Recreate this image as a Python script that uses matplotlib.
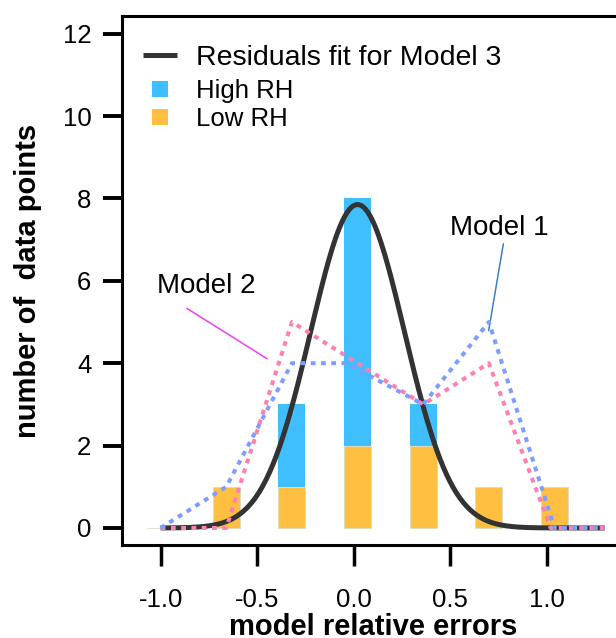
import numpy as np
import matplotlib
matplotlib.use("Agg")
import matplotlib.pyplot as plt
from matplotlib.lines import Line2D

plt.rcParams['font.family'] = ['Liberation Sans', 'DejaVu Sans']
plt.rcParams['axes.unicode_minus'] = False

# ---- data ----
bin_centers = [-1.0, -0.66, -0.32, 0.02, 0.36, 0.70, 1.04]
low_rh = [0, 1, 1, 2, 2, 1, 1]
high_rh = [0, 0, 2, 6, 1, 0, 0]

model1_x = [-1.0, -0.66, -0.32, -0.04, 0.36, 0.70, 1.04, 1.30]
model1_y = [0, 1, 4, 4, 3, 5, 0, 0]
model2_x = [-1.0, -0.66, -0.32, 0.02, 0.36, 0.70, 1.02, 1.30]
model2_y = [0, 0, 5, 4, 3, 4, 0, 0]

fit_amp = 7.85
fit_mu = 0.02
fit_sigma = 0.243
fit_range = (-1.0, 1.30)

xticks = [-1.0, -0.5, 0.0, 0.5, 1.0]
xtick_labels = ['-1.0', '-0.5', '0.0', '0.5', '1.0']
yticks = [0, 2, 4, 6, 8, 10, 12]

# ---- figure ----
W, H = 616, 638
fig = plt.figure(figsize=(W / 100, H / 100), dpi=100)
ax = fig.add_axes([122 / W, 93 / H, 502 / W, 528.7 / H])
ax.set_xlim(-1.2, 1.40)
ax.set_ylim(-0.413, 12.42)

c_high = '#40BFFF'
c_low = '#FFBF40'
c_fit = '#333333'
c_m1 = '#7F9CFF'
c_m2 = '#FF7FB0'

bw = 0.14
ax.bar(bin_centers, low_rh, width=bw, color=c_low, edgecolor='#DADDBF',
       linewidth=0.6, zorder=1)
ax.bar(bin_centers, high_rh, width=bw, bottom=low_rh, color=c_high,
       linewidth=0, zorder=1)

xf = np.linspace(fit_range[0], fit_range[1], 400)
yf = fit_amp * np.exp(-0.5 * ((xf - fit_mu) / fit_sigma) ** 2)
ax.plot(xf, yf, color=c_fit, lw=3.6, zorder=3, solid_capstyle='butt')

dots = (0, (1.2, 1.35))
ax.plot(model2_x, model2_y, color=c_m2, lw=2.9, ls=dots, zorder=4,
        dash_capstyle='butt')
ax.plot(model1_x, model1_y, color=c_m1, lw=2.9, ls=dots, zorder=5,
        dash_capstyle='butt')

# annotations
ax.annotate('Model 1', xy=(0.699, 4.79), xytext=(0.752, 7.11),
            fontsize=20, ha='center', va='baseline',
            arrowprops=dict(arrowstyle='-', color='#3F7FC0', lw=1.1,
                            shrinkA=0, shrinkB=0,
                            relpos=(0.55, 0.0)))
ax.annotate('Model 2', xy=(-0.449, 4.11), xytext=(-0.763, 5.70),
            fontsize=20, ha='center', va='baseline',
            arrowprops=dict(arrowstyle='-', color='#F040F0', lw=1.1,
                            shrinkA=0, shrinkB=0,
                            relpos=(0.3, -0.35)))

# axes styling
for s in ['left', 'top', 'bottom', 'right']:
    ax.spines[s].set_linewidth(2.2)
ax.set_xticks(xticks)
ax.set_xticklabels(xtick_labels)
ax.set_yticks(yticks)
ax.tick_params(axis='x', direction='out', length=15, width=2.5,
               labelsize=18.5, pad=16)
ax.tick_params(axis='y', direction='out', length=14, width=2.8,
               labelsize=18.5, pad=8)

ax.set_xlabel('model relative errors', fontsize=21, fontweight='bold',
              labelpad=1)
ax.set_ylabel('number of  data points', fontsize=21, fontweight='bold',
              labelpad=15)

h_fit = [Line2D([], [], color=c_fit, lw=3.6, solid_capstyle='butt')]
leg1 = ax.legend(h_fit, ['Residuals fit for Model 3'],
                 loc='upper left', bbox_to_anchor=(0.041, 0.945),
                 frameon=False, fontsize=20.5, borderpad=0,
                 borderaxespad=0, handlelength=1.2, handletextpad=0.67)
ax.add_artist(leg1)

h_rh = [
    Line2D([], [], ls='', marker='s', markersize=12, color=c_high,
           markeredgewidth=0),
    Line2D([], [], ls='', marker='s', markersize=12, color=c_low,
           markeredgewidth=0),
]
leg2 = ax.legend(h_rh, ['High RH', 'Low RH'],
                 loc='upper left', bbox_to_anchor=(0.041, 0.882),
                 frameon=False, fontsize=18.5, borderpad=0,
                 borderaxespad=0, handlelength=1.33, handletextpad=0.74,
                 labelspacing=0.15)

fig.savefig('out.png', dpi=100)
